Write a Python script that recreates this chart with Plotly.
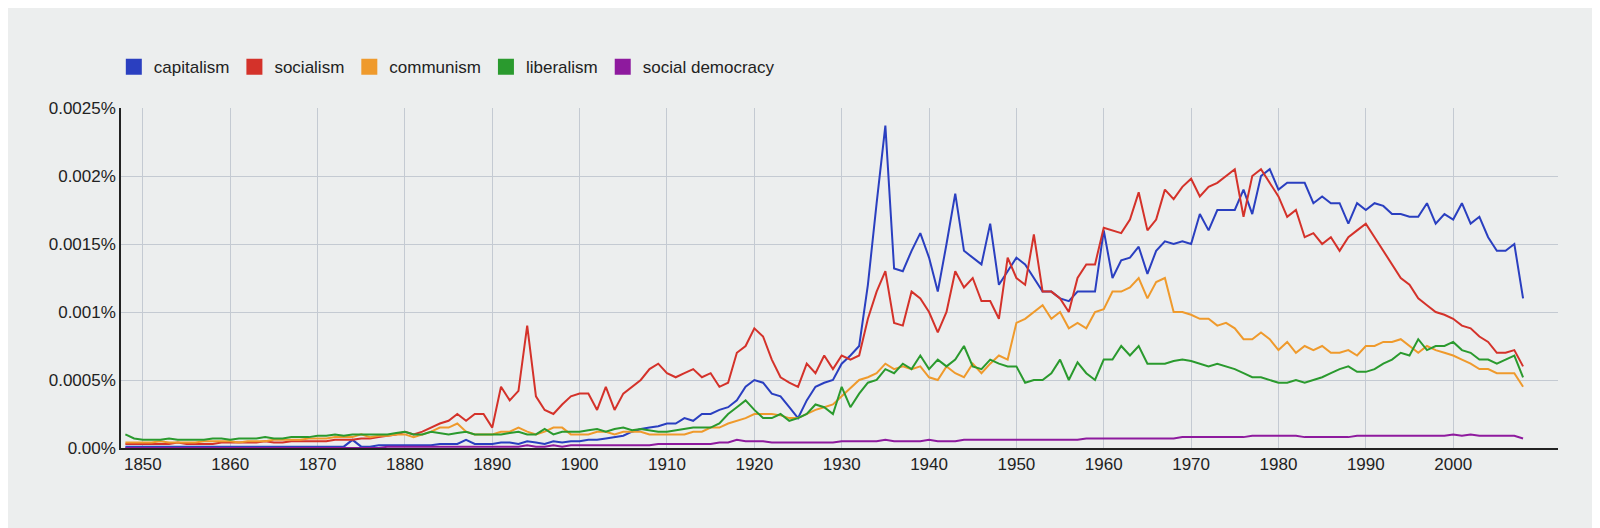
import plotly.graph_objects as go

# values in units of 1e-5 percent, years 1848..2008
years = list(range(1848, 2009))

capitalism = (
    [1, 1]
    + [1, 1, 1, 1, 1, 1, 1, 1, 1, 1]
    + [1, 1, 1, 1, 1, 1, 1, 1, 1, 1]
    + [1, 1, 1, 1, 6, 1, 1, 2, 2, 2]
    + [2, 2, 2, 2, 3, 3, 3, 6, 3, 3]
    + [3, 4, 4, 3, 5, 4, 3, 5, 4, 5]
    + [5, 6, 6, 7, 8, 9, 12, 14, 15, 16]
    + [18, 18, 22, 20, 25, 25, 28, 30, 35, 45]
    + [50, 48, 40, 38, 30, 22, 35, 45, 48, 50]
    + [62, 68, 75, 120, 180, 237, 132, 130, 145, 158]
    + [140, 115, 150, 187, 145, 140, 135, 165, 120, 130]
    + [140, 135, 125, 115, 115, 110, 108, 115, 115, 115]
    + [160, 125, 138, 140, 148, 128, 145, 152, 150, 152]
    + [150, 172, 160, 175, 175, 175, 190, 172, 200, 205]
    + [190, 195, 195, 195, 180, 185, 180, 180, 165, 180]
    + [175, 180, 178, 172, 172, 170, 170, 180, 165, 172]
    + [168, 180, 165, 170, 155, 145, 145, 150, 110]
)

socialism = (
    [3, 3]
    + [3, 3, 3, 3, 4, 3, 3, 3, 3, 4]
    + [4, 4, 4, 4, 5, 4, 4, 5, 5, 5]
    + [5, 5, 6, 6, 6, 7, 7, 8, 9, 10]
    + [12, 10, 12, 15, 18, 20, 25, 20, 25, 25]
    + [15, 45, 35, 42, 90, 38, 28, 25, 32, 38]
    + [40, 40, 28, 45, 28, 40, 45, 50, 58, 62]
    + [55, 52, 55, 58, 52, 55, 45, 48, 70, 75]
    + [88, 82, 65, 52, 48, 45, 62, 55, 68, 58]
    + [68, 65, 68, 95, 115, 130, 92, 90, 115, 110]
    + [100, 85, 100, 130, 118, 125, 108, 108, 95, 140]
    + [125, 120, 157, 115, 115, 110, 100, 125, 135, 135]
    + [162, 160, 158, 168, 188, 160, 168, 190, 183, 192]
    + [198, 185, 192, 195, 200, 205, 170, 200, 205, 195]
    + [185, 170, 175, 155, 158, 150, 155, 145, 155, 160]
    + [165, 155, 145, 135, 125, 120, 110, 105, 100, 98]
    + [95, 90, 88, 82, 78, 70, 70, 72, 60]
)

communism = (
    [4, 4]
    + [4, 4, 5, 4, 4, 4, 4, 5, 5, 5]
    + [5, 4, 5, 5, 5, 6, 6, 6, 6, 7]
    + [7, 7, 8, 8, 8, 10, 8, 9, 9, 10]
    + [10, 8, 10, 12, 15, 15, 18, 12, 10, 10]
    + [10, 12, 12, 15, 12, 10, 12, 15, 15, 10]
    + [10, 10, 12, 12, 10, 12, 12, 12, 10, 10]
    + [10, 10, 10, 12, 12, 15, 15, 18, 20, 22]
    + [25, 25, 25, 24, 22, 22, 25, 28, 30, 32]
    + [38, 44, 50, 52, 55, 62, 58, 60, 58, 60]
    + [52, 50, 60, 55, 52, 62, 55, 62, 68, 65]
    + [92, 95, 100, 105, 95, 100, 88, 92, 88, 100]
    + [102, 115, 115, 118, 125, 110, 122, 125, 100, 100]
    + [98, 95, 95, 90, 92, 88, 80, 80, 85, 80]
    + [72, 78, 70, 75, 72, 75, 70, 70, 72, 68]
    + [75, 75, 78, 78, 80, 75, 70, 75, 72, 70]
    + [68, 65, 62, 58, 58, 55, 55, 55, 45]
)

liberalism = (
    [10, 7]
    + [6, 6, 6, 7, 6, 6, 6, 6, 7, 7]
    + [6, 7, 7, 7, 8, 7, 7, 8, 8, 8]
    + [9, 9, 10, 9, 10, 10, 10, 10, 10, 11]
    + [12, 10, 10, 12, 11, 10, 11, 12, 10, 10]
    + [10, 10, 11, 12, 10, 10, 14, 10, 12, 12]
    + [12, 13, 14, 12, 14, 15, 13, 14, 13, 12]
    + [12, 13, 14, 15, 15, 15, 18, 25, 30, 35]
    + [28, 22, 22, 25, 20, 22, 25, 32, 30, 25]
    + [45, 30, 40, 48, 50, 58, 55, 62, 58, 68]
    + [58, 65, 60, 65, 75, 60, 58, 65, 62, 60]
    + [60, 48, 50, 50, 55, 65, 50, 63, 55, 50]
    + [65, 65, 75, 68, 75, 62, 62, 62, 64, 65]
    + [64, 62, 60, 62, 60, 58, 55, 52, 52, 50]
    + [48, 48, 50, 48, 50, 52, 55, 58, 60, 56]
    + [56, 58, 62, 65, 70, 68, 80, 72, 75, 75]
    + [78, 72, 70, 65, 65, 62, 65, 68, 52]
)

social_democracy = (
    [0, 0]
    + [0, 0, 0, 0, 0, 0, 0, 0, 0, 0]
    + [0, 0, 0, 0, 0, 0, 0, 0, 0, 0]
    + [0, 0, 0, 0, 0, 0, 0, 0, 1, 1]
    + [1, 1, 1, 1, 1, 1, 1, 1, 1, 1]
    + [1, 1, 1, 1, 2, 1, 1, 2, 1, 2]
    + [2, 2, 2, 2, 2, 2, 2, 2, 2, 3]
    + [3, 3, 3, 3, 3, 3, 4, 4, 6, 5]
    + [5, 5, 4, 4, 4, 4, 4, 4, 4, 4]
    + [5, 5, 5, 5, 5, 6, 5, 5, 5, 5]
    + [6, 5, 5, 5, 6, 6, 6, 6, 6, 6]
    + [6, 6, 6, 6, 6, 6, 6, 6, 7, 7]
    + [7, 7, 7, 7, 7, 7, 7, 7, 7, 8]
    + [8, 8, 8, 8, 8, 8, 8, 9, 9, 9]
    + [9, 9, 9, 8, 8, 8, 8, 8, 8, 9]
    + [9, 9, 9, 9, 9, 9, 9, 9, 9, 9]
    + [10, 9, 10, 9, 9, 9, 9, 9, 7]
)

series = [
    ("capitalism", capitalism, "#2a3fc0"),
    ("socialism", socialism, "#d4322a"),
    ("communism", communism, "#ef9a2c"),
    ("liberalism", liberalism, "#2a9a2e"),
    ("social democracy", social_democracy, "#8e1a9e"),
]

fig = go.Figure()
for name, vals, col in series:
    fig.add_trace(go.Scatter(
        x=years, y=[v / 100000 for v in vals], mode="lines", name=name,
        line=dict(color=col, width=2), showlegend=False,
    ))
    # square legend swatch
    fig.add_trace(go.Scatter(
        x=[None], y=[None], mode="markers", name=name,
        marker=dict(symbol="square", size=16, color=col),
    ))

ytick_vals = [0, 0.0005, 0.001, 0.0015, 0.002, 0.0025]
ytick_text = ["0.00%", "0.0005%", "0.001%", "0.0015%", "0.002%", "0.0025%"]

fig.update_layout(
    width=1600, height=528,
    paper_bgcolor="#eceeee", plot_bgcolor="#eceeee",
    margin=dict(l=113, r=50, t=100, b=88),
    font=dict(family="Liberation Sans, Arial", size=17, color="#222"),
    showlegend=True,
    legend=dict(orientation="h", x=-0.005, y=1.12, xanchor="left", yanchor="middle",
                bgcolor="rgba(0,0,0,0)", font=dict(size=17)),
    xaxis=dict(range=[1847.5, 2012], tickvals=list(range(1850, 2001, 10)),
               showgrid=True, gridcolor="#c4cad2", showline=True, linecolor="#222",
               linewidth=1.5, zeroline=False, ticks=""),
    yaxis=dict(range=[0, 0.0025], tickvals=ytick_vals, ticktext=ytick_text,
               showgrid=True, gridcolor="#c4cad2", showline=True, linecolor="#222",
               linewidth=1.5, zeroline=False, ticks=""),
)

fig.write_html("out.html")
